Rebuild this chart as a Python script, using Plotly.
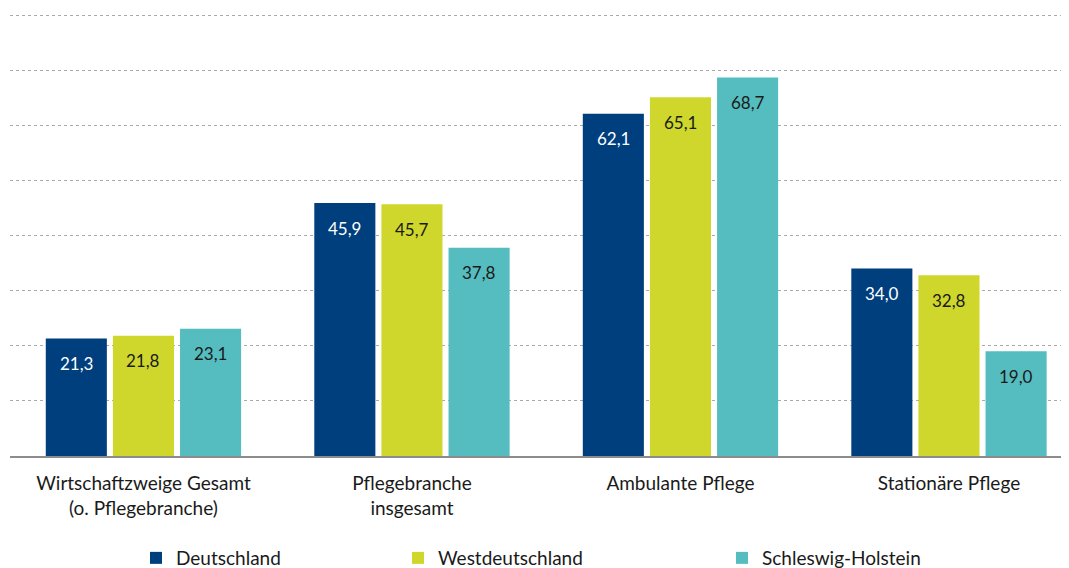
import plotly.graph_objects as go

categories = ["Wirtschaftzweige Gesamt<br>(o. Pflegebranche)", "Pflegebranche<br>insgesamt",
              "Ambulante Pflege", "Stationäre Pflege"]
series_names = ["Deutschland", "Westdeutschland", "Schleswig-Holstein"]
deutschland = [21.3, 45.9, 62.1, 34.0]
westdeutschland = [21.8, 45.7, 65.1, 32.8]
schleswig_holstein = [23.1, 37.8, 68.7, 19.0]
series_values = [deutschland, westdeutschland, schleswig_holstein]
colors = ["#003f7d", "#cfd72c", "#55bdbf"]
label_colors = ["#ffffff", "#1a1a1a", "#1a1a1a"]
y_ticks = [10, 20, 30, 40, 50, 60, 70, 80]

FONT = "Lato"

fig = go.Figure()
legend_ids = ["legend", "legend2", "legend3"]
for j, (name, vals, col) in enumerate(zip(series_names, series_values, colors)):
    fig.add_trace(go.Bar(
        x=list(range(len(categories))), y=vals, name=name,
        marker=dict(color=col, line=dict(width=0)),
        legend=legend_ids[j], showlegend=True,
        hoverinfo="skip",
    ))

annotations = []
slot = 0.75 / 3
for j, vals in enumerate(series_values):
    for i, v in enumerate(vals):
        annotations.append(dict(
            x=i + (j - 1) * slot, y=v, xref="x", yref="y",
            text=f"{v:.1f}".replace(".", ","), showarrow=False,
            yshift=-25, yanchor="middle",
            font=dict(family=FONT, size=17, color=label_colors[j]),
        ))

leg_common = dict(orientation="h", yanchor="middle", xanchor="left",
                  font=dict(family=FONT, size=19, color="#1a1a1a"),
                  bgcolor="rgba(0,0,0,0)", itemwidth=30)
legend_x_px = [128, 390, 714]
plot_left, plot_w = 2, 1059
leg_y = -0.2308

fig.update_layout(
    width=1061, height=560,
    margin=dict(l=2, r=0, t=6, b=112, autoexpand=False),
    paper_bgcolor="white", plot_bgcolor="white",
    barmode="group", bargap=0.25, bargroupgap=0.09,
    font=dict(family=FONT, size=19, color="#1a1a1a"),
    annotations=annotations,
    showlegend=True,
    legend=dict(x=(legend_x_px[0] - plot_left) / plot_w, y=leg_y, **leg_common),
    legend2=dict(x=(legend_x_px[1] - plot_left) / plot_w, y=leg_y, **leg_common),
    legend3=dict(x=(legend_x_px[2] - plot_left) / plot_w, y=leg_y, **leg_common),
    xaxis=dict(
        tickmode="array", tickvals=list(range(len(categories))), ticktext=categories,
        range=[-0.497, 3.447], showgrid=False, zeroline=False,
        showline=True, linecolor="#8c8c8c", linewidth=2,
        ticks="outside", ticklen=9, tickcolor="rgba(0,0,0,0)",
        tickfont=dict(family=FONT, size=19, color="#1a1a1a"),
    ),
    yaxis=dict(
        range=[0, 80.2], tickmode="array", tickvals=y_ticks, showticklabels=False,
        showgrid=True, gridcolor="#aaaaaa", gridwidth=1, griddash="dot",
        zeroline=False, showline=False,
    ),
)

fig.write_html("out.html")
